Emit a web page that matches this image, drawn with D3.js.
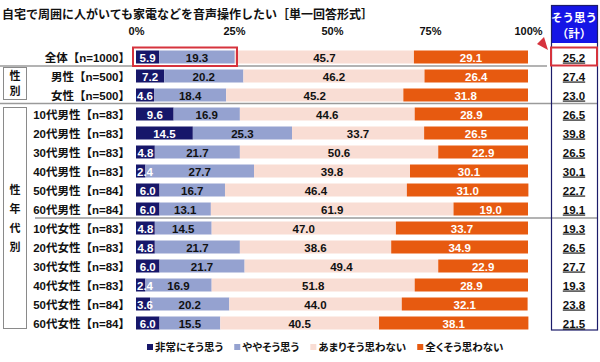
<!DOCTYPE html>
<html>
<head>
<meta charset="utf-8">
<script src="https://cdn.jsdelivr.net/npm/d3@7"></script>
<style>
  body { margin: 0; background: #fff; }
  text { font-family: "Liberation Sans", "Noto Sans CJK JP", sans-serif; font-weight: bold; }
  .legend text { font-family: "Noto Sans CJK JP", sans-serif; font-feature-settings: "palt"; }
</style>
</head>
<body>
<svg id="chart" width="600" height="362"></svg>
<script>
// data
const rowLabels = ["全体【n=1000】", "男性【n=500】", "女性【n=500】",
  "10代男性【n=83】", "20代男性【n=83】", "30代男性【n=83】", "40代男性【n=83】", "50代男性【n=84】", "60代男性【n=84】",
  "10代女性【n=83】", "20代女性【n=83】", "30代女性【n=83】", "40代女性【n=83】", "50代女性【n=84】", "60代女性【n=84】"];
const veryMuch = [5.9, 7.2, 4.6, 9.6, 14.5, 4.8, 2.4, 6.0, 6.0, 4.8, 4.8, 6.0, 2.4, 3.6, 6.0];
const somewhat = [19.3, 20.2, 18.4, 16.9, 25.3, 21.7, 27.7, 16.7, 13.1, 14.5, 21.7, 21.7, 16.9, 20.2, 15.5];
const notMuch  = [45.7, 46.2, 45.2, 44.6, 33.7, 50.6, 39.8, 46.4, 61.9, 47.0, 38.6, 49.4, 51.8, 44.0, 40.5];
const notAtAll = [29.1, 26.4, 31.8, 28.9, 26.5, 22.9, 30.1, 31.0, 19.0, 33.7, 34.9, 22.9, 28.9, 32.1, 38.1];
const agreeTotal = ["25.2", "27.4", "23.0", "26.5", "39.8", "26.5", "30.1", "22.7", "19.1", "19.3", "26.5", "27.7", "19.3", "23.8", "21.5"];
const seriesNames = ["非常にそう思う", "ややそう思う", "あまりそう思わない", "全くそう思わない"];
const ticks = [0, 25, 50, 75, 100];

const colors = ["#17176a", "#95a2d0", "#f9ddd4", "#e75a10"];
const labelColors = ["#fff", "#111", "#111", "#fff"];

const svg = d3.select("#chart");
const x = d3.scaleLinear().domain([0, 100]).range([136, 528]);
const y = d3.scalePoint().domain(rowLabels).range([57, 323]);
const barH = 13;

// title
svg.append("text").attr("x", 2).attr("y", 19).attr("font-size", 12).attr("fill", "#111")
  .text("自宅で周囲に人がいても家電などを音声操作したい［単一回答形式］");

// axis labels
svg.append("g")
  .attr("transform", "translate(0,38)")
  .call(d3.axisTop(x).tickValues(ticks).tickSize(0).tickFormat(d => d + "%"))
  .call(g => g.select(".domain").remove())
  .selectAll("text").attr("font-size", 11).attr("fill", "#111")
  .style("font-family", "'Liberation Sans', sans-serif").style("font-weight", "bold");

// stacked bars
const series = [veryMuch, somewhat, notMuch, notAtAll];
const segs = [];
rowLabels.forEach((lab, i) => {
  let acc = 0;
  series.forEach((s, k) => {
    segs.push({ row: lab, k, v: s[i], a: acc, b: acc + s[i] });
    acc += s[i];
  });
});

svg.append("g").selectAll("rect").data(segs).join("rect")
  .attr("x", d => x(d.a)).attr("y", d => y(d.row) - barH / 2)
  .attr("width", d => x(d.b) - x(d.a)).attr("height", barH)
  .attr("fill", d => colors[d.k]);

svg.append("g").selectAll("text").data(segs).join("text")
  .attr("x", d => {
    const mid = (x(d.a) + x(d.b)) / 2;
    return d.k === 0 ? Math.max(mid, x(d.a) + 9) : mid;
  })
  .attr("y", d => y(d.row) + 4.5)
  .attr("text-anchor", "middle").attr("font-size", 11.5)
  .attr("fill", d => labelColors[d.k])
  .text(d => d.v.toFixed(1));

svg.append("g").selectAll("text").data(rowLabels).join("text")
  .attr("x", 130).attr("y", d => y(d) + 4.5)
  .attr("text-anchor", "end").attr("font-size", 11.5).attr("fill", "#111")
  .text(d => d);

// separators
const sep = [[0, 547, 66], [0, 597, 103.5], [35, 597, 218]];
sep.forEach(([a, b, yy]) => {
  svg.append("line").attr("x1", a).attr("x2", b).attr("y1", yy).attr("y2", yy)
    .attr("stroke", "#9a9a9a").attr("stroke-width", 1.5);
});

// group boxes on the left
svg.append("rect").attr("x", 3.5).attr("y", 67.5).attr("width", 23).attr("height", 32)
  .attr("fill", "#fff").attr("stroke", "#8a8a8a");
svg.append("rect").attr("x", 3.5).attr("y", 107.5).attr("width", 23).attr("height", 221)
  .attr("fill", "#fff").attr("stroke", "#8a8a8a");
[["性", 80], ["別", 95]].forEach(([t, yy]) =>
  svg.append("text").attr("x", 15).attr("y", yy).attr("text-anchor", "middle")
    .attr("font-size", 11).attr("fill", "#111").text(t));
[["性", 194], ["年", 213], ["代", 232], ["別", 251]].forEach(([t, yy]) =>
  svg.append("text").attr("x", 15).attr("y", yy).attr("text-anchor", "middle")
    .attr("font-size", 11).attr("fill", "#111").text(t));

// right column
svg.append("rect").attr("x", 551).attr("y", 5).attr("width", 46).attr("height", 38).attr("fill", "#1515e6");
svg.append("rect").attr("x", 551.5).attr("y", 5.5).attr("width", 46).attr("height", 324.5)
  .attr("fill", "none").attr("stroke", "#1c1c6a").attr("stroke-width", 1.2);
svg.append("text").attr("x", 574).attr("y", 22).attr("text-anchor", "middle")
  .attr("font-size", 11.5).attr("fill", "#fff").text("そう思う");
svg.append("text").attr("x", 574).attr("y", 38).attr("text-anchor", "middle")
  .attr("font-size", 11.5).attr("fill", "#fff").text("（計）");
svg.append("g").selectAll("text").data(rowLabels).join("text")
  .attr("x", 574).attr("y", d => y(d) + 4.5).attr("text-anchor", "middle")
  .attr("font-size", 11.5).attr("fill", "#111").attr("text-decoration", "underline")
  .text((d, i) => agreeTotal[i]);

// highlight boxes
svg.append("rect").attr("x", 133).attr("y", 47.5).attr("width", 104).attr("height", 18.5)
  .attr("fill", "none").attr("stroke", "#d6333d").attr("stroke-width", 2);
svg.append("rect").attr("x", 551).attr("y", 47.5).attr("width", 46).attr("height", 18)
  .attr("fill", "none").attr("stroke", "#d6333d").attr("stroke-width", 2);
svg.append("polygon").attr("points", "537,44 544,37 548,50").attr("fill", "#d6333d");

// legend, laid out left to right
const leg = svg.append("g").attr("class", "legend");
let lx = 147;
seriesNames.forEach((n, k) => {
  leg.append("rect").attr("x", lx).attr("y", 344).attr("width", 6).attr("height", 6).attr("fill", colors[k]);
  const t = leg.append("text").attr("x", lx + 8).attr("y", 351).attr("font-size", 10.5)
    .attr("fill", "#111").text(n);
  lx += 8 + t.node().getComputedTextLength() + 11;
});
</script>
</body>
</html>
